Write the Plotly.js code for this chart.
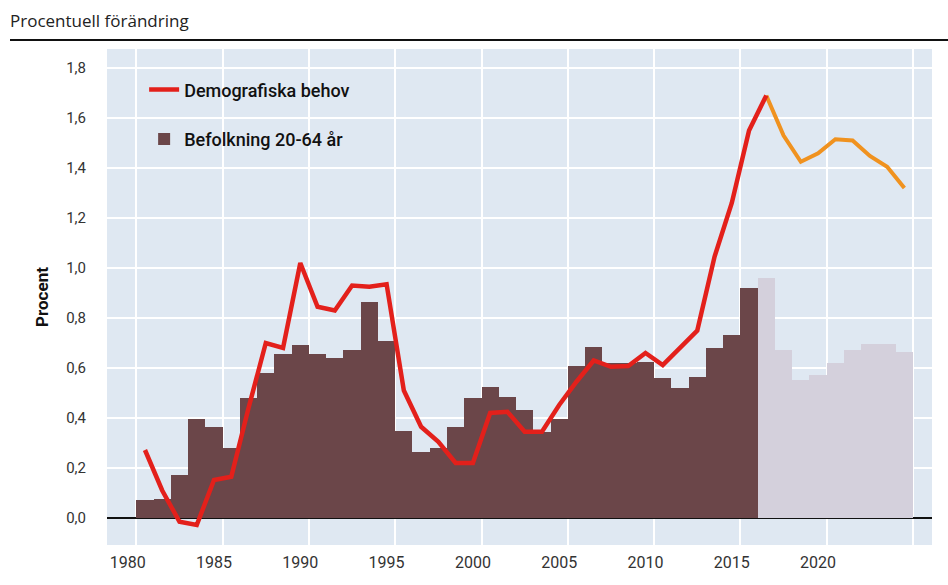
<!DOCTYPE html>
<html>
<head>
<meta charset="utf-8">
<script src="https://cdn.plot.ly/plotly-3.0.1.min.js"></script>
<style>html,body{margin:0;padding:0;background:#fff;}#chart{width:948px;height:585px;}</style>
</head>
<body>
<div id="chart"></div>
<script>
// Data
const yearsHist = [1981,1982,1983,1984,1985,1986,1987,1988,1989,1990,1991,1992,1993,1994,1995,1996,1997,1998,1999,2000,2001,2002,2003,2004,2005,2006,2007,2008,2009,2010,2011,2012,2013,2014,2015,2016];
const befolkningHist = [0.072,0.078,0.172,0.395,0.363,0.279,0.479,0.579,0.656,0.692,0.655,0.641,0.672,0.863,0.709,0.349,0.265,0.279,0.365,0.479,0.525,0.485,0.432,0.345,0.395,0.609,0.685,0.62,0.621,0.625,0.559,0.519,0.565,0.679,0.732,0.919];
const yearsProg = [2017,2018,2019,2020,2021,2022,2023,2024,2025];
const befolkningProg = [0.961,0.672,0.552,0.572,0.619,0.672,0.695,0.695,0.665];
const yearsBehov = [1981,1982,1983,1984,1985,1986,1987,1988,1989,1990,1991,1992,1993,1994,1995,1996,1997,1998,1999,2000,2001,2002,2003,2004,2005,2006,2007,2008,2009,2010,2011,2012,2013,2014,2015,2016,2017];
const behov = [0.272,0.11,-0.015,-0.028,0.152,0.165,0.44,0.70,0.68,1.02,0.845,0.83,0.93,0.925,0.935,0.51,0.365,0.305,0.22,0.22,0.42,0.425,0.345,0.345,0.452,0.545,0.63,0.605,0.608,0.66,0.612,0.68,0.75,1.045,1.26,1.55,1.69];
const yearsBehovProg = [2017,2018,2019,2020,2021,2022,2023,2024,2025];
const behovProg = [1.69,1.53,1.425,1.459,1.515,1.51,1.448,1.405,1.32];
const xTickVals = [1980,1985,1990,1995,2000,2005,2010,2015,2020];
const yTickVals = [0,0.2,0.4,0.6,0.8,1.0,1.2,1.4,1.6,1.8];

const FONT = 'Roboto, "Open Sans", sans-serif';
const traces = [
  {type:'bar', x:yearsHist, y:befolkningHist, width:1, name:'Befolkning 20-64 år',
   marker:{color:'#6b4649'}, legendgroup:'b', legendrank:2, hoverinfo:'x+y'},
  {type:'bar', x:yearsProg, y:befolkningProg, width:1, name:'Befolkning prognos',
   marker:{color:'#d4d0dc'}, showlegend:false, hoverinfo:'x+y'},
  {type:'scatter', mode:'lines', x:yearsBehovProg, y:behovProg, name:'Demografiska behov prognos',
   line:{color:'#f0921f', width:4}, showlegend:false},
  {type:'scatter', mode:'lines', x:yearsBehov, y:behov, name:'Demografiska behov',
   line:{color:'#e3201b', width:4.5}, legendgroup:'a', legendrank:1},
  {type:'scatter', mode:'none', x:[1980], y:[0], xaxis:'x2', showlegend:false, hoverinfo:'skip'}
];

const layout = {
  width:948, height:585,
  margin:{l:107, r:16, t:49, b:40},
  paper_bgcolor:'#ffffff', plot_bgcolor:'#dfe8f2',
  separators:', ',
  font:{family:FONT, color:'#222'},
  barmode:'overlay', bargap:0,
  title:{text:'Procentuell förändring', x:10/948, xanchor:'left', y:1-21/585, yanchor:'middle',
         font:{family:'"Open Sans", Roboto, sans-serif', size:17, color:'#222'}},
  xaxis:{range:[1978.8,2026.6], tickvals:xTickVals, showgrid:false, zeroline:false,
         ticks:'', tickfont:{family:FONT, size:16, color:'#333'}, ticklabelstandoff:6, fixedrange:true},
  xaxis2:{overlaying:'x', range:[1978.8,2026.6], tick0:1980.5, dtick:5, showgrid:true,
          gridcolor:'#ffffff', gridwidth:2, showticklabels:false, zeroline:false, ticks:''},
  yaxis:{range:[-0.108,1.876], tickvals:yTickVals, tickformat:'.1f', showgrid:true,
         gridcolor:'#ffffff', gridwidth:2, zeroline:true, zerolinecolor:'#111', zerolinewidth:2,
         ticks:'', tickfont:{family:FONT, size:15, color:'#333'}, ticklabelstandoff:20,
         title:{text:'<b>Procent</b>', standoff:13, font:{family:FONT, size:17, color:'#111'}}},
  legend:{x:0.045, y:0.955, xanchor:'left', yanchor:'top', bgcolor:'rgba(0,0,0,0)',
          traceorder:'grouped', tracegroupgap:23, itemwidth:30,
          font:{family:FONT, size:18, color:'#111', weight:500}},
  shapes:[{type:'line', xref:'paper', yref:'paper', x0:-97/825, x1:841/825, y0:505/496, y1:505/496,
           line:{color:'#111', width:2}}],
  showlegend:true
};

Plotly.newPlot('chart', traces, layout, {displayModeBar:false, staticPlot:true});
</script>
</body>
</html>
